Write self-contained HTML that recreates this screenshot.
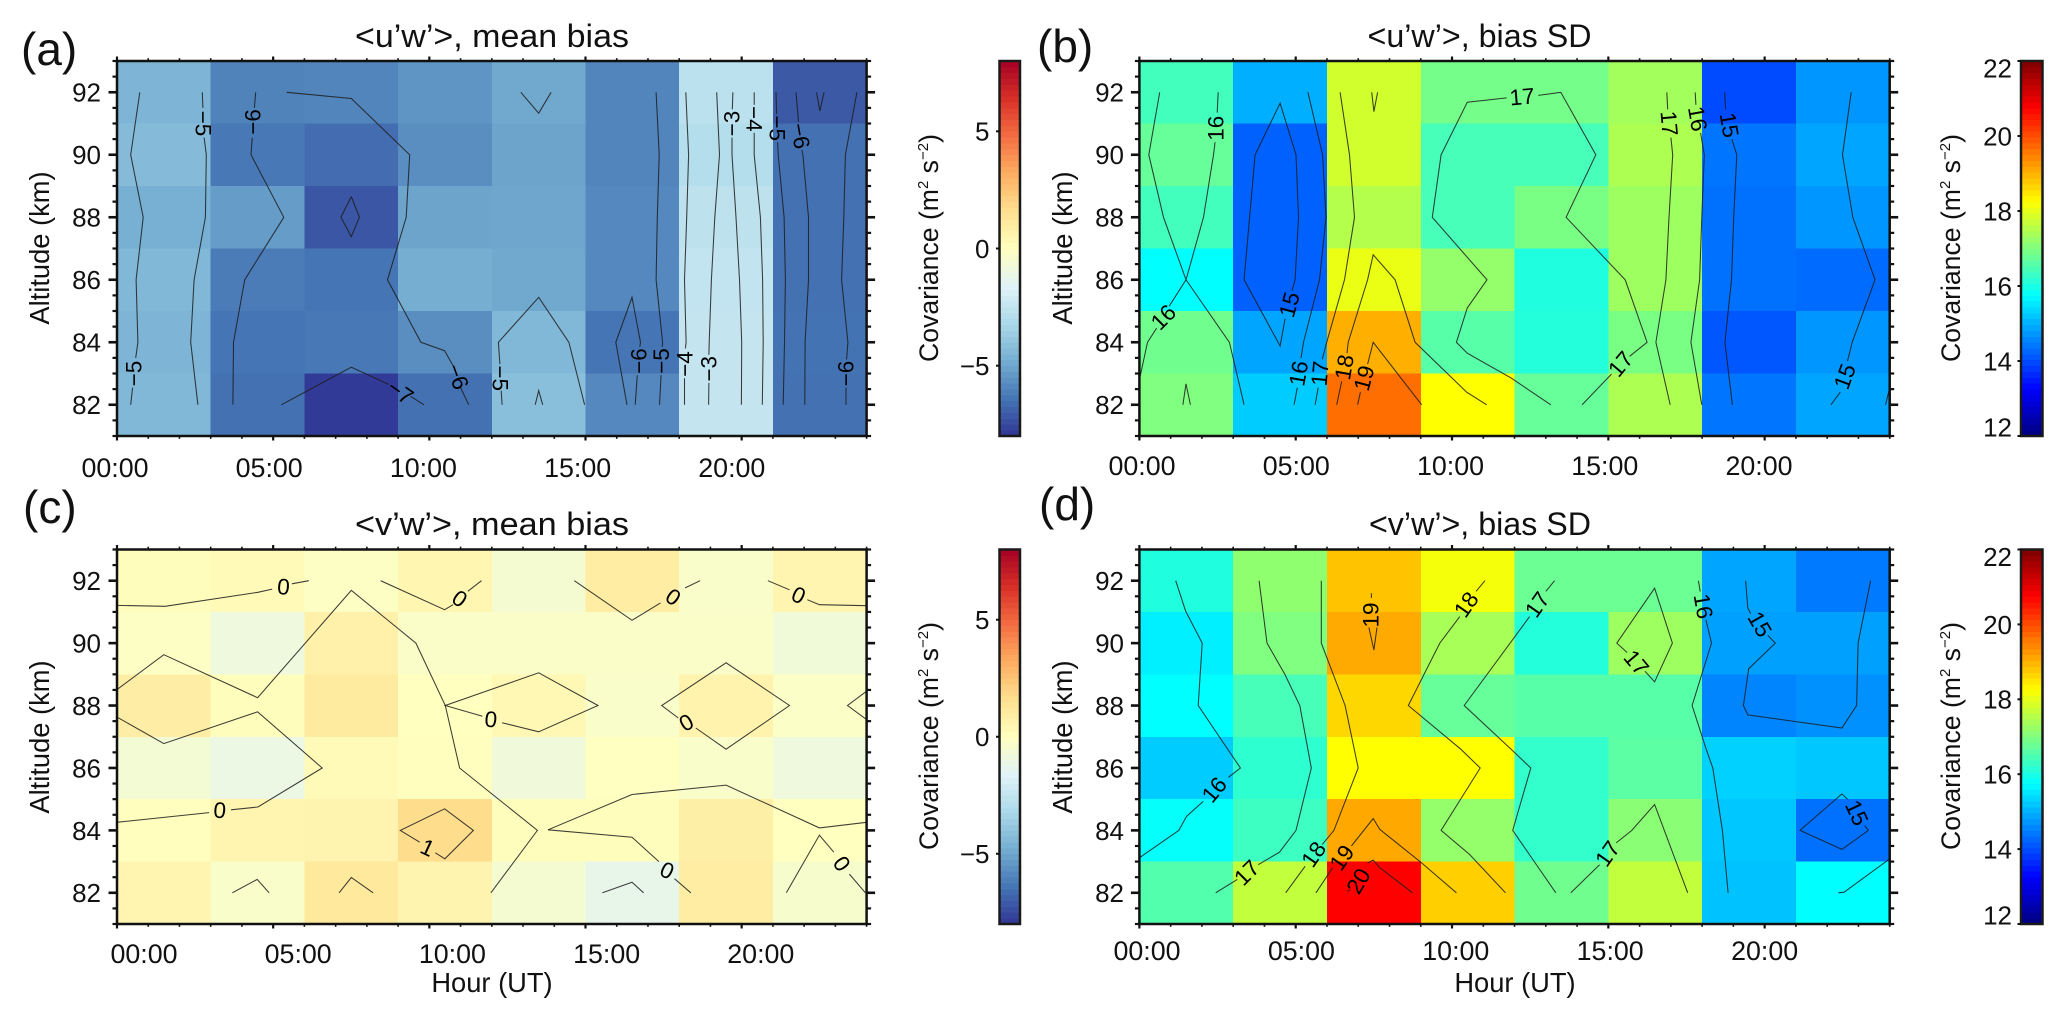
<!DOCTYPE html>
<html lang="en">
<head>
<meta charset="utf-8">
<title>Covariance bias by hour and altitude</title>
<style>
html,body{margin:0;padding:0;background:#fff;}
#figure{display:block;width:2067px;height:1022px;font-family:"Liberation Sans",Arial,sans-serif;fill:#111;}
.lbl{font-size:27.3px;}
.cov{font-size:26.6px;}
.title{font-size:32px;}
.letter{font-size:46px;}
.sup{font-size:15px;}
</style>
</head>
<body>
<svg id="figure" xmlns="http://www.w3.org/2000/svg" width="2067" height="1022" viewBox="0 0 2067 1022">
  <rect x="0" y="0" width="2067" height="1022" fill="#fff"/>

  <g id="panel-a"></g>
  <g id="panel-b"></g>
  <g id="panel-c"></g>
  <g id="panel-d"></g>

  <text class="letter" x="21" y="65">(a)</text>
  <text class="letter" x="1037" y="62">(b)</text>
  <text class="letter" x="23" y="523">(c)</text>
  <text class="letter" x="1039" y="520">(d)</text>

  <text class="title" x="492" y="47" text-anchor="middle" textLength="274" lengthAdjust="spacingAndGlyphs">&lt;u’w’&gt;, mean bias</text>
  <text class="title" x="1479.5" y="47" text-anchor="middle" textLength="224" lengthAdjust="spacingAndGlyphs">&lt;u’w’&gt;, bias SD</text>
  <text class="title" x="492" y="535" text-anchor="middle" textLength="274" lengthAdjust="spacingAndGlyphs">&lt;v’w’&gt;, mean bias</text>
  <text class="title" x="1480" y="535" text-anchor="middle" textLength="222" lengthAdjust="spacingAndGlyphs">&lt;v’w’&gt;, bias SD</text>

  <text class="lbl" text-anchor="middle" transform="translate(49,248) rotate(-90)">Altitude (km)</text>
  <text class="lbl" text-anchor="middle" transform="translate(1072,248) rotate(-90)">Altitude (km)</text>
  <text class="lbl" text-anchor="middle" transform="translate(49,737) rotate(-90)">Altitude (km)</text>
  <text class="lbl" text-anchor="middle" transform="translate(1072,737) rotate(-90)">Altitude (km)</text>

  <text class="lbl" x="492" y="992" text-anchor="middle">Hour (UT)</text>
  <text class="lbl" x="1515" y="992" text-anchor="middle">Hour (UT)</text>

  <text class="cov" text-anchor="middle" transform="translate(938,248) rotate(-90)">Covariance (m<tspan class="sup" dy="-10">2</tspan><tspan dy="10"> s</tspan><tspan class="sup" dy="-10">−2</tspan><tspan dy="10">)</tspan></text>
  <text class="cov" text-anchor="middle" transform="translate(1960,248) rotate(-90)">Covariance (m<tspan class="sup" dy="-10">2</tspan><tspan dy="10"> s</tspan><tspan class="sup" dy="-10">−2</tspan><tspan dy="10">)</tspan></text>
  <text class="cov" text-anchor="middle" transform="translate(938,736) rotate(-90)">Covariance (m<tspan class="sup" dy="-10">2</tspan><tspan dy="10"> s</tspan><tspan class="sup" dy="-10">−2</tspan><tspan dy="10">)</tspan></text>
  <text class="cov" text-anchor="middle" transform="translate(1960,736) rotate(-90)">Covariance (m<tspan class="sup" dy="-10">2</tspan><tspan dy="10"> s</tspan><tspan class="sup" dy="-10">−2</tspan><tspan dy="10">)</tspan></text>
</svg>

<script>
// ---- axes / categories ----
const hourEdges = [0, 3, 6, 9, 12, 15, 18, 21, 24];
const altEdges = [93, 91, 89, 87, 85, 83, 81];
const xTickLabels = ["00:00", "05:00", "10:00", "15:00", "20:00"];
const altTicks = [92, 90, 88, 86, 84, 82];
const bwrTicks = [5, 0, -5];
const jetTicks = [22, 20, 18, 16, 14, 12];

// ---- heatmap values: rows run top (91-93 km) to bottom (81-83 km), columns 3-hourly ----
const valuesA = [
  [-4.5, -6.0, -5.95, -5.5, -4.95, -5.95, -2.7, -7.1],
  [-4.3, -6.3, -6.6, -5.7, -5.05, -5.95, -2.9, -6.5],
  [-4.7, -5.3, -7.2, -5.05, -5.0, -5.85, -2.65, -6.5],
  [-4.4, -6.2, -6.4, -4.75, -4.95, -5.85, -2.5, -6.5],
  [-4.5, -6.4, -6.3, -5.7, -4.4, -6.4, -2.45, -6.45],
  [-4.4, -6.5, -7.9, -6.5, -4.15, -5.85, -2.45, -6.5]
];
const valuesB = [
  [16.4, 14.97, 17.8, 16.9, 16.9, 17.35, 13.98, 14.72],
  [16.75, 14.2, 17.8, 16.45, 16.45, 17.45, 14.4, 14.87],
  [16.4, 14.2, 17.5, 16.45, 16.95, 17.3, 14.35, 14.72],
  [15.75, 14.2, 18.05, 17.2, 16.05, 17.3, 14.35, 14.3],
  [16.85, 14.87, 19.03, 16.6, 16.1, 16.95, 14.1, 14.72],
  [17.0, 15.25, 19.67, 18.25, 16.75, 17.45, 14.4, 14.87]
];
const valuesC = [
  [0.1, 0.25, -0.1, 0.45, -0.5, 0.95, -0.3, 0.5],
  [-0.1, -0.85, 0.7, -0.25, -0.25, -0.25, -0.25, -0.7],
  [0.9, 0.1, 1.05, 0.0, 0.35, -0.3, 0.6, -0.2],
  [-0.6, -1.0, 0.25, 0.05, -0.75, -0.05, -0.3, -0.85],
  [0.05, 0.5, 0.55, 1.7, 0.1, 0.1, 0.85, 0.0],
  [0.5, -0.3, 1.15, 0.55, -0.5, -1.2, 0.95, -0.4]
];
const valuesD = [
  [16.05, 17.15, 18.84, 18.15, 16.8, 16.8, 14.87, 14.45],
  [15.6, 17.0, 19.08, 17.4, 16.1, 17.3, 14.82, 14.82],
  [15.75, 16.45, 18.64, 16.75, 16.6, 16.6, 14.55, 14.67],
  [15.25, 16.2, 18.25, 18.25, 16.25, 16.65, 15.3, 15.2],
  [15.8, 16.35, 19.1, 17.2, 16.25, 17.1, 15.2, 14.35],
  [16.55, 17.65, 20.75, 18.72, 16.85, 17.65, 15.15, 15.75]
];

// ---- contour polylines, as [hour, altitude km] pairs ----
const contoursA = [
  [[.73,92],[.44,90],[.84,88],[.61,86],[.67,84],[.6,83.5]], [[.5,82.55],[.44,82]],
  [[2.73,92],[2.75,91.5]], [[2.79,90.55],[2.86,90],[2.83,88],[2.47,86],[2.36,84],[2.59,82]],
  [[4.44,92],[4.4,91.5]], [[4.33,90.55],[4.29,90],[5.34,88],[4.09,86],[3.73,84],[3.71,82]],
  [[5.43,92],[7.5,91.8],[9.37,90],[9.26,88],[8.66,86],[9.73,84],[10.49,83.73],[10.76,83.25]], [[11.0,82.55],[11.26,82]],
  [[5.26,82],[7.5,83.2],[8.7,82.65]], [[9.4,82.27],[9.83,82]],
  [[7.5,88.66],[7.76,88],[7.5,87.38],[7.17,88],[7.5,88.66]],
  [[12.93,92],[13.5,91.33],[13.9,92]],
  [[12.26,83.3],[12.21,84],[13.5,85.44],[14.47,84],[14.97,82]], [[12.3,82.45],[12.33,82]],
  [[13.39,82],[13.5,82.45],[13.63,82]],
  [[17.26,92],[17.36,90],[17.3,88],[17.26,86],[17.47,84],[17.46,83.85]], [[17.42,82.95],[17.37,82]],
  [[16.33,82],[15.97,84],[16.49,85.44],[16.76,84],[16.74,83.85]], [[16.66,82.95],[16.59,82]],
  [[18.21,92],[18.3,90],[18.24,88],[18.17,86],[18.22,84],[18.2,83.8]], [[18.17,82.85],[18.17,82]],
  [[19.2,92],[19.29,90],[19.14,88],[19.03,86],[18.96,84],[18.95,83.6]], [[18.95,82.7],[18.94,82]],
  [[19.72,92],[19.7,91.45]], [[19.69,90.55],[19.69,90],[19.82,88],[19.93,86],[20,84],[19.99,82]],
  [[20.4,92],[20.4,91.6]], [[20.4,90.7],[20.4,90],[20.6,88],[20.67,86],[20.69,84],[20.66,82]],
  [[21.1,92],[21.12,91.3]], [[21.15,90.4],[21.17,90],[21.36,88],[21.4,86],[21.37,84],[21.33,82]],
  [[21.74,92],[21.82,91.05]], [[21.93,90.15],[21.96,90],[22.14,88],[22.14,86],[22.03,84],[22.02,82]],
  [[22.4,92],[22.5,91.4],[22.64,92]],
  [[23.69,92],[23.32,90],[23.27,88],[23.2,86],[23.4,84],[23.36,83.45]], [[23.34,82.55],[23.34,82]]
];
const contoursB = [
  [[.65,92],[.3,90],[.77,88],[1.49,86],[2.88,84],[3.35,82]],
  [[2.52,92],[2.49,91.35]], [[2.42,90.4],[2.37,90],[2.05,88],[1.49,86],[.95,85.15]], [[.55,84.45],[.26,84],[0,82.8]],
  [[4.66,84.75],[4.5,83.88],[3.35,86],[3.7,90],[4.5,91.65],[5.01,90],[5.09,88],[4.98,86],[4.88,85.65]],
  [[5.39,92],[5.86,90],[5.97,88],[5.76,86],[5.25,84],[5.17,83.5]], [[5.05,82.55],[4.95,82]],
  [[6.42,92],[6.72,90],[6.88,88],[6.56,86],[5.99,84],[5.85,83.45]], [[5.72,82.55],[5.62,82]],
  [[6.31,82],[6.47,82.75]], [[6.64,83.65],[6.68,84],[7.3,86],[7.48,86.8],[8.18,86],[8.82,84],[10.47,82.4],[11.11,82]],
  [[6.98,82],[7.07,82.4]], [[7.3,83.3],[7.48,84],[9.03,82]],
  [[7.43,92],[7.5,91.38],[7.62,92]],
  [[1.39,82],[1.49,82.67],[1.63,82]],
  [[11.75,91.82],[10.49,91.68],[9.65,90],[9.37,88],[11.12,86],[10.49,85.1],[10.14,84],[10.49,83.65],[11.9,82.85],[13.16,82]],
  [[12.76,91.9],[13.48,92],[14.6,90],[13.65,88],[15.54,86],[16.24,84],[15.68,83.55]], [[15.1,82.98],[14.16,82]],
  [[16.87,92],[16.9,91.45]], [[17.0,90.55],[17.06,90],[16.94,88],[16.84,86],[16.52,84],[16.98,82]],
  [[17.78,92],[17.8,91.6]], [[17.95,90.7],[18.07,90],[17.99,88],[17.92,86],[17.64,84],[17.99,82]],
  [[18.72,92],[18.75,91.45]], [[18.95,90.5],[19.11,90],[19.01,88],[18.94,86],[18.73,84],[18.97,82]],
  [[22.77,92],[22.49,90],[22.82,88],[23.53,86],[22.8,84],[22.65,83.4]], [[22.42,82.4],[22.12,82]],
  [[23.87,82],[24,82.55]]
];
const contoursC = [
  [[0,91.21],[1.54,91.18],[4.51,91.63],[4.97,91.73]], [[5.6,91.9],[6.14,92]],
  [[0,88.51],[1.5,89.63],[4.5,88.25],[7.5,91.69],[9.57,90],[10.51,88],[10.97,86],[13.46,84],[11.97,82]],
  [[0,87.63],[1.5,86.78],[4.5,87.8],[6.57,86],[4.51,84.75],[3.65,84.66]], [[2.95,84.57],[0,84.26]],
  [[11.7,87.66],[10.51,88],[13.5,89.05],[15.4,88],[13.5,87.16],[12.33,87.45]],
  [[8.44,92],[10.49,91.07],[10.76,91.23]], [[11.23,91.66],[11.67,92]],
  [[14.64,92],[16.49,90.73],[17.4,91.29]], [[18.19,91.77],[18.67,92]],
  [[20.84,92],[21.53,91.71]], [[22.1,91.39],[22.49,91.23],[24,91.2]],
  [[17.97,87.6],[17.44,88],[19.5,89.37],[21.53,88],[19.5,86.6],[18.53,87.28]],
  [[24,88.46],[23.39,88],[24,87.55]],
  [[9.69,83.62],[9.07,84],[10.49,84.69],[11.41,84],[10.5,83.09],[10.19,83.28]],
  [[13.8,84.02],[16.49,85.15],[19.5,85.45],[22.49,84.08],[24,84.26]],
  [[13.8,84.02],[16.49,83.78],[17.35,83]], [[17.85,82.45],[18.37,82]],
  [[21.43,82],[22.49,83.85],[22.95,83.3]], [[23.45,82.6],[23.96,82]],
  [[3.69,82],[4.49,82.43],[4.87,82]],
  [[7.11,82],[7.5,82.49],[8.2,82]],
  [[15.54,82],[16.49,82.34],[16.86,82]]
];
const contoursD = [
  [[1.16,92],[1.48,91.02],[2.01,90],[1.88,88],[3.23,86],[2.85,85.7]], [[2.04,84.93],[1.51,84.45],[1.26,84],[0,83.12]],
  [[3.83,92],[4.08,90],[4.65,89],[5.13,88],[5.5,86],[5.01,84],[4.48,83.3],[3.8,82.9]], [[3.13,82.43],[2.44,82]],
  [[5.82,92],[5.82,90],[6.58,88],[7.0,86],[6.22,84],[5.85,83.55]], [[5.3,82.85],[4.68,82]],
  [[7.42,91.6],[7.42,91.45]], [[7.34,90.5],[7.5,89.78],[7.6,90.5]],
  [[6.18,82.8],[5.65,82]], [[6.78,83.5],[7.48,84.38],[7.69,84.03],[8.98,83],[10.14,82]],
  [[7.48,83.05],[7.3,82.95]], [[6.75,82.1],[6.65,82.05]], [[7.48,83.05],[7.69,82.8],[8.74,82]],
  [[11.05,92],[10.77,91.66]], [[10.25,90.85],[9.61,90],[8.6,88],[10.28,86.6],[10.9,86],[9.65,84],[10.56,83.23],[11.71,82]],
  [[13.28,92],[13.0,91.66]], [[12.48,90.85],[10.39,88],[11.89,86.6],[12.52,86],[11.94,84],[13.32,82]],
  [[13.8,82],[14.72,82.9]], [[15.25,83.6],[15.75,84],[16.48,84.83],[17.54,82]],
  [[16.17,89.1],[16.48,88.76],[17.05,90],[16.48,91.76],[15.27,90],[15.6,89.7]],
  [[17.88,92],[17.94,91.65]], [[18.12,90.75],[18.3,90],[17.68,88],[18.13,86.6],[18.34,86],[18.65,84],[18.83,82]],
  [[19.39,92],[19.46,91.13],[19.55,90.95]], [[20.1,90.25],[20.34,90],[19.49,89.18],[19.32,88],[19.46,87.7],[22.47,87.28],[22.94,88],[22.99,90],[23.39,92]],
  [[22.65,85],[22.47,85.17],[21.13,84],[22.47,83.39],[23.32,84],[23.2,84.15]],
  [[22.36,82],[22.54,82.02],[23.95,83.05],[24,83.1]]
];

// ---- inline contour labels: text, hour, altitude, text angle ----
const contourLabelsA = [
  ["−5",.55,83,-90],["−5",2.76,91,90],["−6",4.36,91.05,-90],["−6",10.9,82.9,70],["−7",9.07,82.4,35],
  ["−5",12.26,82.85,90],["−5",17.44,83.4,-90],["−6",16.71,83.4,-90],["−4",18.18,83.3,-90],["−3",18.95,83.15,-90],
  ["−3",19.69,91,-90],["−4",20.4,91.15,90],["−5",21.13,90.85,90],["−6",21.87,90.6,80],["−6",23.34,83,-90]
];
const contourLabelsB = [
  ["16",2.45,90.85,-90],["16",.77,84.8,-45],["15",4.8,85.2,-75],["16",5.1,83,-80],["17",5.78,83,-85],
  ["18",6.56,83.2,-80],["19",7.19,82.85,-75],["17",12.24,91.85,-5],["17",15.4,83.3,-50],
  ["17",16.94,91,85],["16",17.85,91.15,80],["15",18.86,90.95,80],["15",22.57,82.9,-70]
];
const contourLabelsC = [
  ["0",5.33,91.8,5],["0",10.97,91.42,35],["0",3.29,84.64,5],["0",11.97,87.55,5],["0",18.23,87.45,-30],
  ["0",17.8,91.47,35],["0",21.82,91.53,25],["1",9.94,83.44,25],["0",17.61,82.71,25],["0",23.2,82.93,55]
];
const contourLabelsD = [
  ["16",2.4,85.3,-50],["17",3.44,82.64,-45],["18",5.58,83.23,-55],["19",6.48,83.12,-55],["20",7.01,82.37,-60],
  ["19",7.41,90.9,-90],["18",10.46,91.23,-55],["17",12.73,91.23,-55],["17",14.98,83.25,-55],
  ["17",15.89,89.37,50],["16",18.03,91.18,80],["15",19.84,90.6,60],["15",22.94,84.56,65]
];

// ---- colour ramp control colours (diverging map) ----
const divergingColors = [[49,54,149],[69,117,180],[116,173,209],[171,217,233],[224,243,248],[255,255,191],[254,224,144],[253,174,97],[244,109,67],[215,48,39],[165,0,38]];

function divergingColor(v) {
  const t = Math.max(0, Math.min(1, (v + 8) / 16)) * (divergingColors.length - 1);
  const i = Math.min(divergingColors.length - 2, Math.floor(t));
  const f = t - i;
  const c = [0, 1, 2].map(k => Math.round(divergingColors[i][k] * (1 - f) + divergingColors[i + 1][k] * f));
  return "rgb(" + c.join(",") + ")";
}
function jetColor(v) {
  const t = Math.max(0, Math.min(1, (v - 12) / 10));
  const ch = a => Math.round(255 * Math.max(0, Math.min(1, 1.5 - Math.abs(4 * t - a))));
  return "rgb(" + ch(3) + "," + ch(2) + "," + ch(1) + ")";
}

const NS = "http://www.w3.org/2000/svg";
function make(tag, attrs, parent, text) {
  const el = document.createElementNS(NS, tag);
  Object.keys(attrs).forEach(k => el.setAttribute(k, attrs[k]));
  if (text !== undefined) el.textContent = text;
  parent.appendChild(el);
  return el;
}

const panels = [
  { id: "panel-a", key: "a", x: 117, w: 749.6, y: 61, h: 375, values: valuesA, lines: contoursA, labels: contourLabelsA,
    color: divergingColor, vMin: -8, vMax: 8, barTicks: bwrTicks, barX: 999.5, barW: 20.5, barLabelX: 989.5,
    xLabelStart: 115, xLabelStep: 154.2, xLabelBase: 477, yLabelX: 101 },
  { id: "panel-b", key: "b", x: 1139.4, w: 750.3, y: 61, h: 375, values: valuesB, lines: contoursB, labels: contourLabelsB,
    color: jetColor, vMin: 12, vMax: 22, barTicks: jetTicks, barX: 2021, barW: 21.5, barLabelX: 2012,
    xLabelStart: 1142, xLabelStep: 154.25, xLabelBase: 475, yLabelX: 1124 },
  { id: "panel-c", key: "c", x: 117, w: 749.6, y: 549.5, h: 374.5, values: valuesC, lines: contoursC, labels: contourLabelsC,
    color: divergingColor, vMin: -8, vMax: 8, barTicks: bwrTicks, barX: 999.5, barW: 20.5, barLabelX: 989.5,
    xLabelStart: 144, xLabelStep: 154.2, xLabelBase: 963, yLabelX: 101 },
  { id: "panel-d", key: "d", x: 1139.4, w: 750.3, y: 549.5, h: 374.5, values: valuesD, lines: contoursD, labels: contourLabelsD,
    color: jetColor, vMin: 12, vMax: 22, barTicks: jetTicks, barX: 2021, barW: 21.5, barLabelX: 2012,
    xLabelStart: 1147, xLabelStep: 154.4, xLabelBase: 960, yLabelX: 1124 }
];

function xAxis(p, hour) { return p.x + hour / 24 * p.w; }
function yAxis(p, alt) { return p.y + (93 - alt) / 12 * p.h; }
function barAxis(p, v) { return p.y + (p.vMax - v) / (p.vMax - p.vMin) * p.h; }

const INK = "#111";

panels.forEach(p => {
  const root = document.getElementById(p.id);

  // heatmap cells
  p.values.forEach((row, r) => {
    row.forEach((v, c) => {
      const x0 = xAxis(p, hourEdges[c]);
      const x1 = xAxis(p, hourEdges[c + 1]);
      const y0 = yAxis(p, altEdges[r]);
      const y1 = yAxis(p, altEdges[r + 1]);
      const cell = make("rect", { x: x0, y: y0, width: x1 - x0 + 0.4, height: y1 - y0 + 0.4, fill: p.color(v), "shape-rendering": "crispEdges" }, root);
      
      
    });
  });

  // contour lines
  p.lines.forEach(line => {
    const pts = line.map(pt => xAxis(p, pt[0]).toFixed(1) + "," + yAxis(p, pt[1]).toFixed(1)).join(" ");
    const poly = make("polyline", { points: pts, fill: "none", stroke: "#1c1c1c", "stroke-width": 1.05, "stroke-opacity": 0.85 }, root);
    
    
  });

  // contour labels
  p.labels.forEach(l => {
    const t = make("text", {
      transform: "translate(" + xAxis(p, l[1]).toFixed(1) + "," + yAxis(p, l[2]).toFixed(1) + ") rotate(" + l[3] + ")",
      "text-anchor": "middle", "dominant-baseline": "central", "font-size": 22.5, fill: "#000"
    }, root, l[0]);
    
    
  });

  // x ticks (hourly minors, 5-hourly majors), top and bottom, outward
  for (let hour = 0; hour <= 24; hour++) {
    const major = hour % 5 === 0;
    const len = major ? 4.5 : 2.8;
    const x = xAxis(p, hour);
    const tTop = make("line", { x1: x, x2: x, y1: p.y, y2: p.y - len, stroke: INK, "stroke-width": major ? 2.2 : 1.6 }, root);
    
    
    const tBot = make("line", { x1: x, x2: x, y1: p.y + p.h, y2: p.y + p.h + len, stroke: INK, "stroke-width": major ? 2.2 : 1.6 }, root);
    
    
  }

  // y ticks (0.5 km minors, 2 km majors), left and right, outward
  for (let i = 0; i <= 24; i++) {
    const alt = 81 + i * 0.5;
    const major = altTicks.indexOf(alt) >= 0;
    const len = major ? 8.5 : 4.5;
    const y = yAxis(p, alt);
    const tL = make("line", { x1: p.x, x2: p.x - len, y1: y, y2: y, stroke: INK, "stroke-width": major ? 2.6 : 2.2 }, root);
    
    
    const tR = make("line", { x1: p.x + p.w, x2: p.x + p.w + len, y1: y, y2: y, stroke: INK, "stroke-width": major ? 2.6 : 2.2 }, root);
    
    
  }

  // frame
  const frame = make("rect", { x: p.x, y: p.y, width: p.w, height: p.h, fill: "none", stroke: INK, "stroke-width": 2.5 }, root);
  
  

  // tick labels
  xTickLabels.forEach((label, i) => {
    const t = make("text", { x: p.xLabelStart + i * p.xLabelStep, y: p.xLabelBase, "text-anchor": "middle", "font-size": 26.8 }, root, label);
    
    
  });
  altTicks.forEach(alt => {
    const t = make("text", { x: p.yLabelX, y: yAxis(p, alt) + 9.4, "text-anchor": "end", "font-size": 26 }, root, String(alt));
    
    
  });

  // colour bar
  const steps = 64;
  for (let i = 0; i < steps; i++) {
    const v0 = p.vMin + (p.vMax - p.vMin) * i / steps;
    const v1 = p.vMin + (p.vMax - p.vMin) * (i + 1) / steps;
    const band = make("rect", {
      x: p.barX, y: barAxis(p, v1), width: p.barW, height: barAxis(p, v0) - barAxis(p, v1) + 0.4,
      fill: p.color((v0 + v1) / 2), "shape-rendering": "crispEdges"
    }, root);
    
    
  }
  const barFrame = make("rect", { x: p.barX, y: p.y, width: p.barW, height: p.h, fill: "none", stroke: "#1a1a1a", "stroke-width": 2.5 }, root);
  
  
  p.barTicks.forEach(v => {
    const y = barAxis(p, v);
    const tick = make("line", { x1: p.barX, x2: p.barX - 3.5, y1: y, y2: y, stroke: INK, "stroke-width": 2 }, root);
    
    
    const yc = Math.max(p.y + 7, Math.min(p.y + p.h - 9, y));
    const t = make("text", { x: p.barLabelX, y: yc + 9.4, "text-anchor": "end", "font-size": 26 }, root, String(v).replace("-", "−"));
    
    
  });
});
</script>
</body>
</html>
